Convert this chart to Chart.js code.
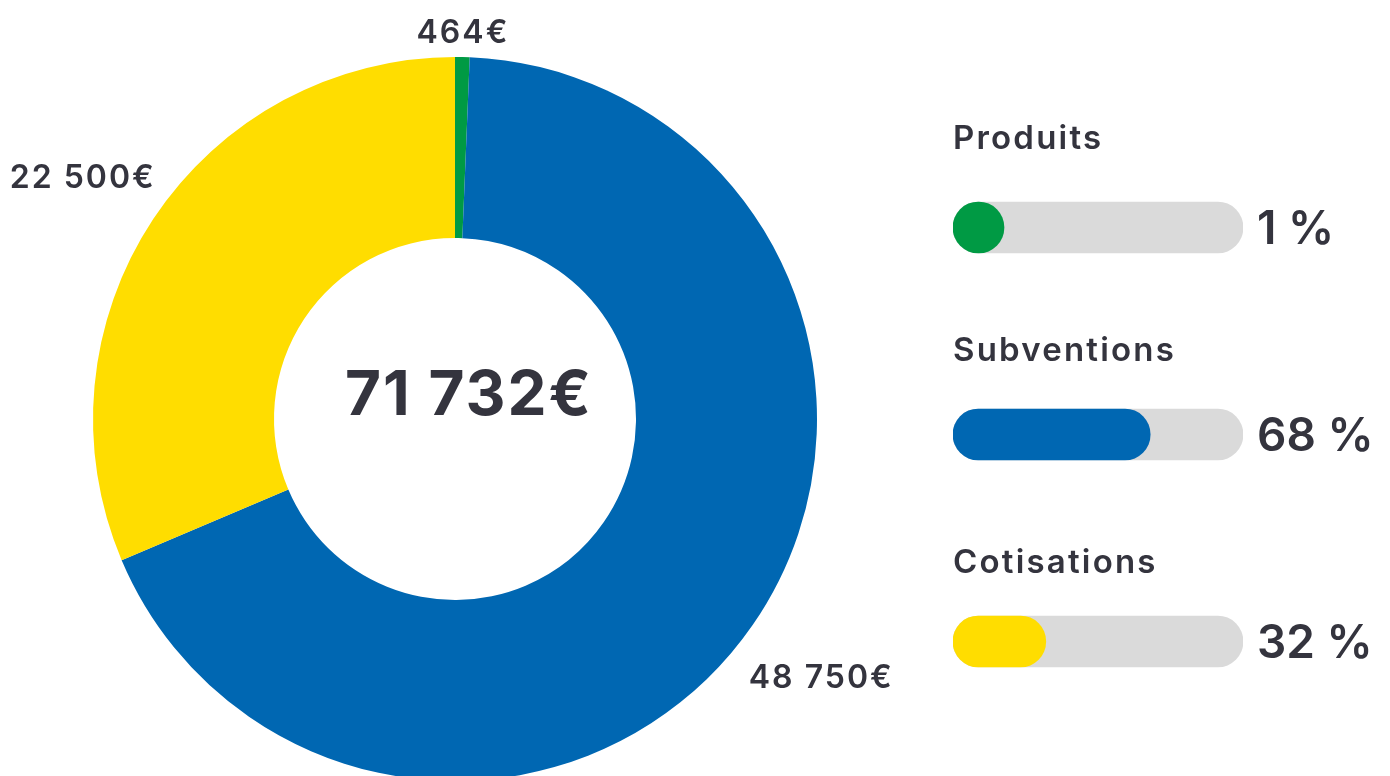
<!DOCTYPE html>
<html>
<head>
<meta charset="utf-8">
<script src="https://cdn.jsdelivr.net/npm/chart.js@4"></script>
<style>
  html, body { margin: 0; padding: 0; background: #fff; overflow: hidden; }
  body { width: 1390px; height: 776px; position: relative; }
  #donutWrap { position: absolute; left: 0; top: 0; width: 910px; height: 800px; }
  #barsWrap { position: absolute; left: 900px; top: 0; width: 490px; height: 776px; }
</style>
</head>
<body>
<div id="donutWrap"><canvas id="donutChart"></canvas></div>
<div id="barsWrap"><canvas id="barsChart"></canvas></div>
<script>
// data
const categories = ['Produits', 'Subventions', 'Cotisations'];
const amounts = [464, 48750, 22500];
const amountLabels = ['464€', '48 750€', '22 500€'];
const percents = [1, 68, 32];
const percentLabels = ['1 %', '68 %', '32 %'];
const totalLabel = '71 732€';

const colors = ['#009a44', '#0067b2', '#ffdd00'];
const trackColor = '#dadada';
const textColor = '#34343e';
const fontFamily = 'Inter, "Open Sans", sans-serif';

// labels outside the arcs + total in the hole
const donutLabels = {
    id: 'donutLabels',
    afterDatasetsDraw(chart) {
        const ctx = chart.ctx;
        const arcs = chart.getDatasetMeta(0).data;
        ctx.save();
        ctx.fillStyle = textColor;
        ctx.font = '600 32px ' + fontFamily;
        ctx.letterSpacing = '2px';
        ctx.textAlign = 'center';
        ctx.textBaseline = 'middle';
        arcs.forEach((arc, i) => {
            const mid = (arc.startAngle + arc.endAngle) / 2;
            const dx = Math.cos(mid), dy = Math.sin(mid);
            const w = ctx.measureText(amountLabels[i]).width;
            const h = 24;
            const dist = arc.outerRadius + 17 + Math.abs(dx) * w / 2 + Math.abs(dy) * h / 2;
            ctx.fillText(amountLabels[i], arc.x + dx * dist, arc.y + dy * dist + 6);
        });
        const a = arcs[0];
        ctx.font = '700 62px ' + fontFamily;
        ctx.letterSpacing = '2px';
        ctx.fillText(totalLabel, a.x + 14, a.y - 23);
        ctx.restore();
    }
};

new Chart(document.getElementById('donutChart'), {
    type: 'doughnut',
    data: {
        labels: categories,
        datasets: [{
            data: amounts,
            backgroundColor: colors,
            borderWidth: 0
        }]
    },
    options: {
        responsive: true,
        maintainAspectRatio: false,
        animation: false,
        cutout: '50%',
        layout: { padding: { left: 93, right: 93, top: 57, bottom: 19 } },
        plugins: { legend: { display: false }, tooltip: { enabled: false } }
    },
    plugins: [donutLabels]
});

// titles above and percentages right of the progress bars
const barLabels = {
    id: 'barLabels',
    afterDatasetsDraw(chart) {
        const ctx = chart.ctx;
        const xs = chart.scales.x, ys = chart.scales.y;
        ctx.save();
        ctx.fillStyle = textColor;
        ctx.textBaseline = 'middle';
        ctx.textAlign = 'left';
        categories.forEach((c, i) => {
            const y = ys.getPixelForValue(i);
            ctx.font = '600 33px ' + fontFamily;
            ctx.letterSpacing = '2.2px';
            ctx.fillText(c, xs.left, y - 88 + i * 5);
            ctx.font = '600 46px ' + fontFamily;
            ctx.letterSpacing = '0px';
            ctx.fillText(percentLabels[i], xs.right + 14, y + 3);
        });
        ctx.restore();
    }
};

new Chart(document.getElementById('barsChart'), {
    type: 'bar',
    data: {
        labels: categories,
        datasets: [
            {
                data: percents,
                backgroundColor: colors,
                borderRadius: 26,
                borderSkipped: false,
                barThickness: 51,
                minBarLength: 51,
                grouped: false,
                order: 1
            },
            {
                data: categories.map(() => 100),
                backgroundColor: trackColor,
                borderRadius: 26,
                borderSkipped: false,
                barThickness: 51,
                grouped: false,
                order: 2
            }
        ]
    },
    options: {
        indexAxis: 'y',
        responsive: true,
        maintainAspectRatio: false,
        animation: false,
        layout: { padding: { left: 53, right: 147, top: 124, bottom: 31 } },
        scales: {
            x: { display: false, min: 0, max: 100 },
            y: { display: false }
        },
        plugins: { legend: { display: false }, tooltip: { enabled: false } }
    },
    plugins: [barLabels]
});
</script>
</body>
</html>
